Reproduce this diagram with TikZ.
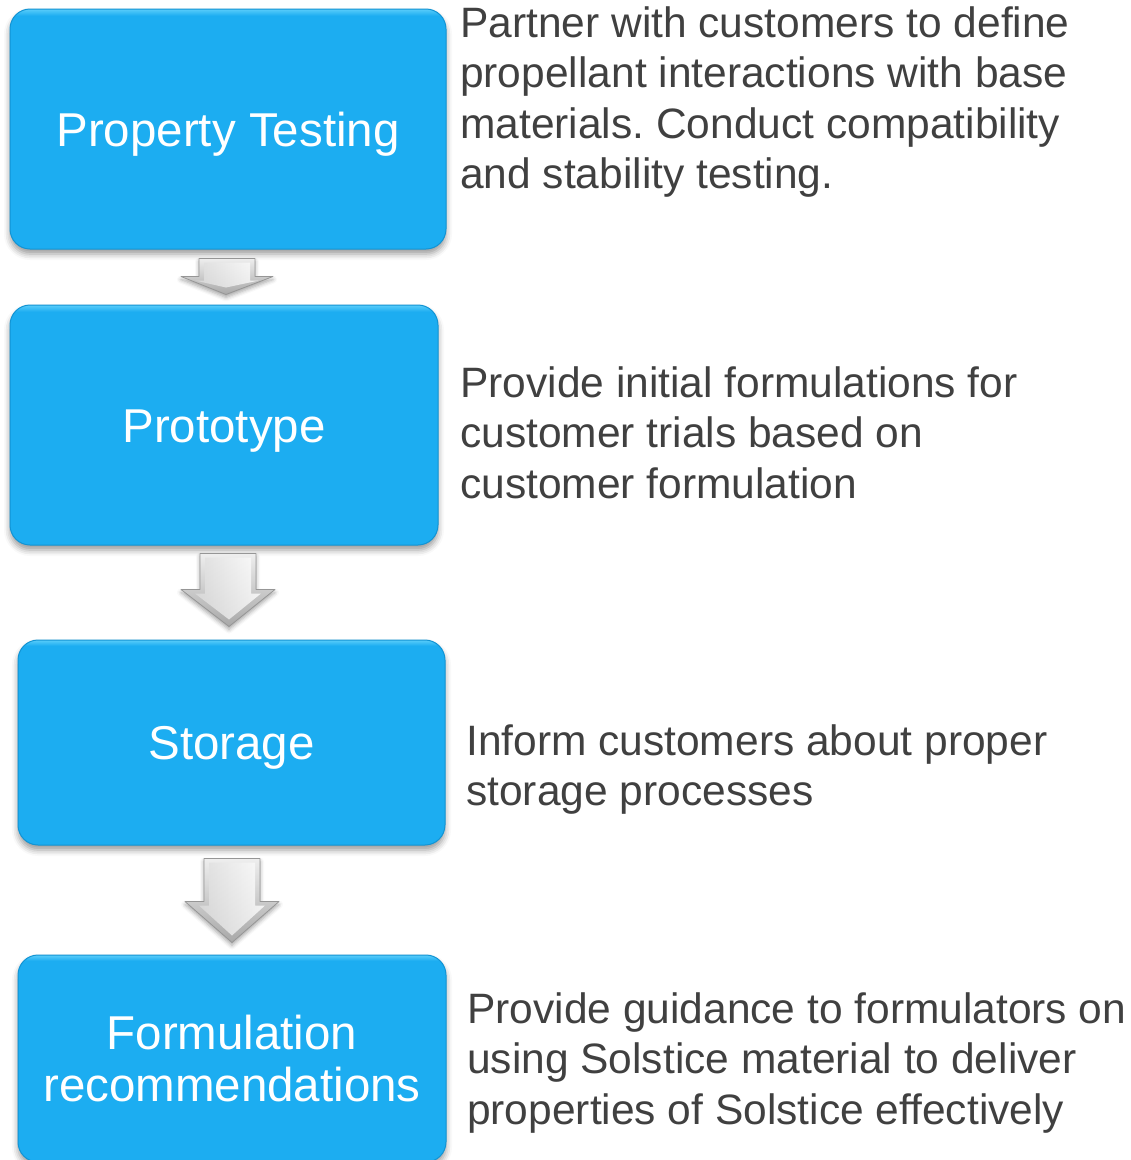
\documentclass[tikz,border=0pt]{standalone}
\usepackage{fontspec}
\setmainfont{Liberation Sans}
\usetikzlibrary{calc,shadows.blur}
\frenchspacing
\definecolor{boxblue}{RGB}{28,173,241}
\definecolor{boxtop}{RGB}{90,205,250}
\definecolor{boxedge}{RGB}{18,148,212}
\definecolor{txtgray}{RGB}{64,64,64}
\definecolor{arrlight}{RGB}{238,238,238}
\definecolor{arrdark}{RGB}{168,168,168}
\definecolor{arredge}{RGB}{150,150,150}
\pgfdeclareverticalshading{boxshade}{100bp}{color(0bp)=(boxblue); color(73.6bp)=(boxblue); color(75bp)=(boxtop); color(100bp)=(boxtop)}
\newcommand{\bevelarrow}[5]{%
  \path[arrowbody] let \p1=(#1), \p2=(#2) in
    (\x1-#3,\y1) -- (\x1+#3,\y1) -- (\x1+#3,\y2+#5) -- (\x1+#4,\y2+#5) -- (\x2,\y2)
    -- (\x1-#4,\y2+#5) -- (\x1-#3,\y2+#5) -- cycle;
  \path[arrowface] let \p1=(#1), \p2=(#2) in
    (\x1-#3+5pt,\y1-4pt) -- (\x1+#3-5pt,\y1-4pt) -- (\x1+#3-5pt,\y2+#5-4pt) -- (\x1+#4-14pt,\y2+#5-4pt)
    -- (\x2,\y2+7pt) -- (\x1-#4+14pt,\y2+#5-4pt) -- (\x1-#3+5pt,\y2+#5-4pt) -- cycle;
}
\begin{document}
\begin{tikzpicture}[x=1pt,y=-1pt,
  stepbox/.style={rectangle, rounded corners=20pt, shading=boxshade, draw=boxedge, line width=1pt,
    text=white, font=\fontsize{47.5}{52}\selectfont, align=center, inner sep=0pt,
    blur shadow={shadow xshift=0pt, shadow yshift=-5pt, shadow blur radius=6pt, shadow opacity=40}},
  oneline/.style={text height=36pt, text depth=2pt},
  desc/.style={anchor=base west, inner sep=0pt, text=txtgray, align=left,
    font=\fontsize{42.5}{50.5}\selectfont},
  arrowbody/.style={top color=arrlight, bottom color=arrdark, draw=arredge, line width=0.8pt,
    line join=round, blur shadow={shadow xshift=0pt, shadow yshift=-3pt, shadow blur radius=4pt, shadow opacity=35}},
  arrowface/.style={left color=black!14, right color=white, opacity=0.8},
]
\useasboundingbox (0,0) rectangle (1131,1160);
\clip (0,0) rectangle (1131,1160);

\node[stepbox, oneline, minimum width=436pt, minimum height=240pt] (pt) at (228,129) {Property Testing};
\node[stepbox, oneline, minimum width=428pt, minimum height=240pt] (proto) at (224,425) {Prototype};
\node[stepbox, oneline, minimum width=427pt, minimum height=205pt] (stor) at (231.5,742.5) {Storage};
\node[stepbox, minimum width=428pt, minimum height=207pt] (form) at (232,1058.5) {Formulation\\recommendations};

\coordinate (s1) at ($(pt.south)+(-1,9)$);
\coordinate (t1) at ($(proto.north)+(2,-10)$);
\coordinate (s2) at ($(proto.south)+(4,8)$);
\coordinate (t2) at ($(stor.north)+(-2.5,-13)$);
\coordinate (s3) at ($(stor.south)+(0.5,13)$);
\coordinate (t3) at ($(form.north)+(0,-12)$);

\bevelarrow{s1}{t1}{28pt}{46pt}{18pt}
\bevelarrow{s2}{t2}{28pt}{47pt}{37pt}
\bevelarrow{s3}{t3}{28pt}{47pt}{41pt}

\node[desc] (d1) at (460,188.5) {Partner with customers to define\\propellant interactions with base\\materials. Conduct compatibility\\and stability testing.};
\node[desc] (d2) at (460,498) {Provide initial formulations for\\customer trials based on\\customer formulation};
\node[desc] (d3) at (466,805.5) {Inform customers about proper\\storage processes};
\node[desc] (d4) at (467,1124) {Provide guidance to formulators on\\using Solstice material to deliver\\properties of Solstice effectively};
\end{tikzpicture}
\end{document}
